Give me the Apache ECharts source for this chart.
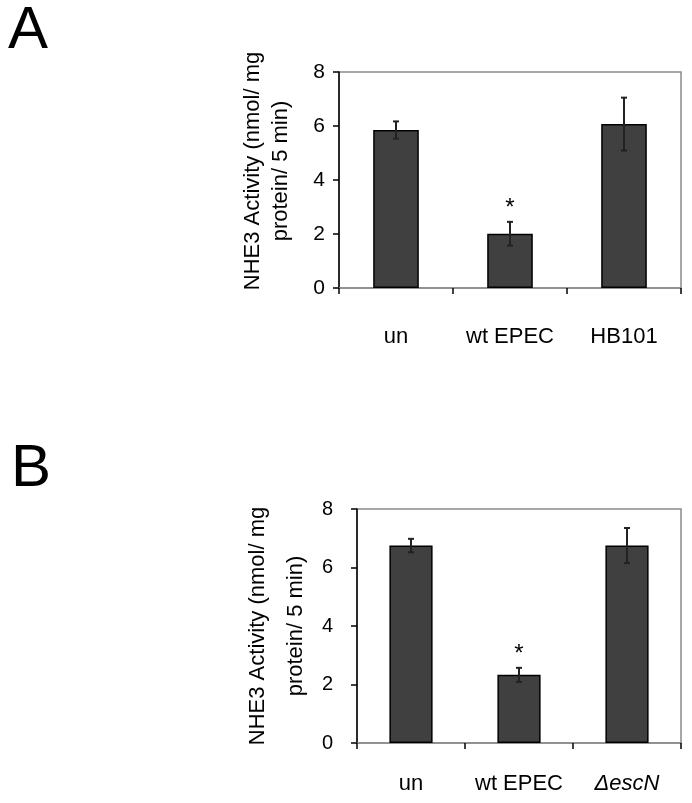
<!DOCTYPE html>
<html>
<head>
<meta charset="utf-8">
<script src="https://cdn.jsdelivr.net/npm/echarts@6/dist/echarts.min.js"></script>
<style>
  html, body { margin: 0; padding: 0; background: #fff; }
  #chart { width: 692px; height: 803px; }
</style>
</head>
<body>
<div id="chart"></div>
<script>
// panel A
const categoriesA = ['un', 'wt EPEC', 'HB101'];
const valuesA = [5.85, 2.01, 6.07];
const errorsA = [0.32, 0.44, 0.98];
const signifA = [false, true, false];

// panel B
const categoriesB = ['un', 'wt EPEC', 'ΔescN'];
const valuesB = [6.75, 2.33, 6.75];
const errorsB = [0.23, 0.24, 0.6];
const signifB = [false, true, false];

const yTicks = [0, 2, 4, 6, 8];
const italicLabels = ['ΔescN'];
const yTitle = 'NHE3 Activity (nmol/ mg\nprotein/ 5 min)';

const font = "'Liberation Sans', Arial, sans-serif";

const chart = echarts.init(document.getElementById('chart'));

function errorSeries(idx, values, errors, signif) {
  return {
    type: 'custom',
    xAxisIndex: idx,
    yAxisIndex: idx,
    z: 5,
    data: values.map((v, i) => [i, v, errors[i], signif[i] ? 1 : 0]),
    renderItem(params, api) {
      const x = api.value(0);
      const mean = api.value(1);
      const err = api.value(2);
      const hi = api.coord([x, mean + err]);
      const lo = api.coord([x, mean - err]);
      const cap = 3;
      const style = { stroke: '#222', lineWidth: 2 };
      const children = [
        { type: 'line', shape: { x1: hi[0], y1: hi[1], x2: lo[0], y2: lo[1] }, style },
        { type: 'line', shape: { x1: hi[0] - cap, y1: hi[1], x2: hi[0] + cap, y2: hi[1] }, style },
        { type: 'line', shape: { x1: lo[0] - cap, y1: lo[1], x2: lo[0] + cap, y2: lo[1] }, style }
      ];
      if (api.value(3)) {
        children.push({
          type: 'text',
          style: {
            text: '*', x: hi[0], y: hi[1] - 13,
            align: 'center', verticalAlign: 'middle',
            fontSize: 24, fontFamily: font, fill: '#000'
          }
        });
      }
      return { type: 'group', children };
    }
  };
}

function xAxis(idx, cats, labelMargin) {
  return {
    type: 'category',
    gridIndex: idx,
    data: cats,
    axisLine: { lineStyle: { color: '#8a8a8a', width: 1.5 } },
    axisTick: { show: true, length: 6, lineStyle: { color: '#000', width: 1.5 } },
    axisLabel: {
      interval: 0,
      hideOverlap: false,
      color: '#000', fontSize: 22, fontFamily: font, margin: labelMargin,
      formatter: (v) => italicLabels.includes(v) ? '{it|' + v + '}' : v,
      rich: { it: { fontStyle: 'italic', fontSize: 22, fontFamily: font, color: '#000' } }
    },
    splitLine: { show: false }
  };
}

function yAxis(idx, labelSize, labelMargin, nameGap, lineHeight, pad) {
  return {
    type: 'value',
    gridIndex: idx,
    min: 0,
    max: 8,
    interval: 2,
    axisLine: { show: true, lineStyle: { color: '#000', width: 1.5 } },
    axisTick: { show: true, length: 6, lineStyle: { color: '#000', width: 1.5 } },
    axisLabel: {
      color: '#000', fontSize: labelSize, fontFamily: font, margin: labelMargin,
      formatter: (v) => yTicks.includes(v) ? String(v) : ''
    },
    splitLine: { show: false },
    name: yTitle,
    nameLocation: 'middle',
    nameGap: nameGap,
    nameTextStyle: {
      color: '#000', fontSize: 22, fontFamily: font,
      lineHeight: lineHeight, padding: pad
    }
  };
}

function barSeries(idx, values) {
  return {
    type: 'bar',
    xAxisIndex: idx,
    yAxisIndex: idx,
    data: values,
    barWidth: '40%',
    itemStyle: { color: '#404040', borderColor: '#000', borderWidth: 1.5 }
  };
}

chart.setOption({
  animation: false,
  backgroundColor: '#fff',
  title: [
    { text: 'A', left: 3, top: -4, textStyle: { fontSize: 60, fontWeight: 'normal', fontFamily: font, color: '#000' } },
    { text: 'B', left: 6, top: 434, textStyle: { fontSize: 60, fontWeight: 'normal', fontFamily: font, color: '#000' } }
  ],
  grid: [
    { left: 339, right: 11, top: 72, height: 216, show: true, borderColor: '#8a8a8a', borderWidth: 1.5, backgroundColor: 'transparent' },
    { left: 357, right: 11, top: 509, height: 234, show: true, borderColor: '#8a8a8a', borderWidth: 1.5, backgroundColor: 'transparent' }
  ],
  xAxis: [
    xAxis(0, categoriesA, 38),
    xAxis(1, categoriesB, 30)
  ],
  yAxis: [
    yAxis(0, 21, 14, 44, 28, [0, 0, 0, 18]),
    yAxis(1, 20, 24, 42, 38, [0, 0, 0, 0])
  ],
  series: [
    barSeries(0, valuesA),
    errorSeries(0, valuesA, errorsA, signifA),
    barSeries(1, valuesB),
    errorSeries(1, valuesB, errorsB, signifB)
  ]
});
</script>
</body>
</html>
